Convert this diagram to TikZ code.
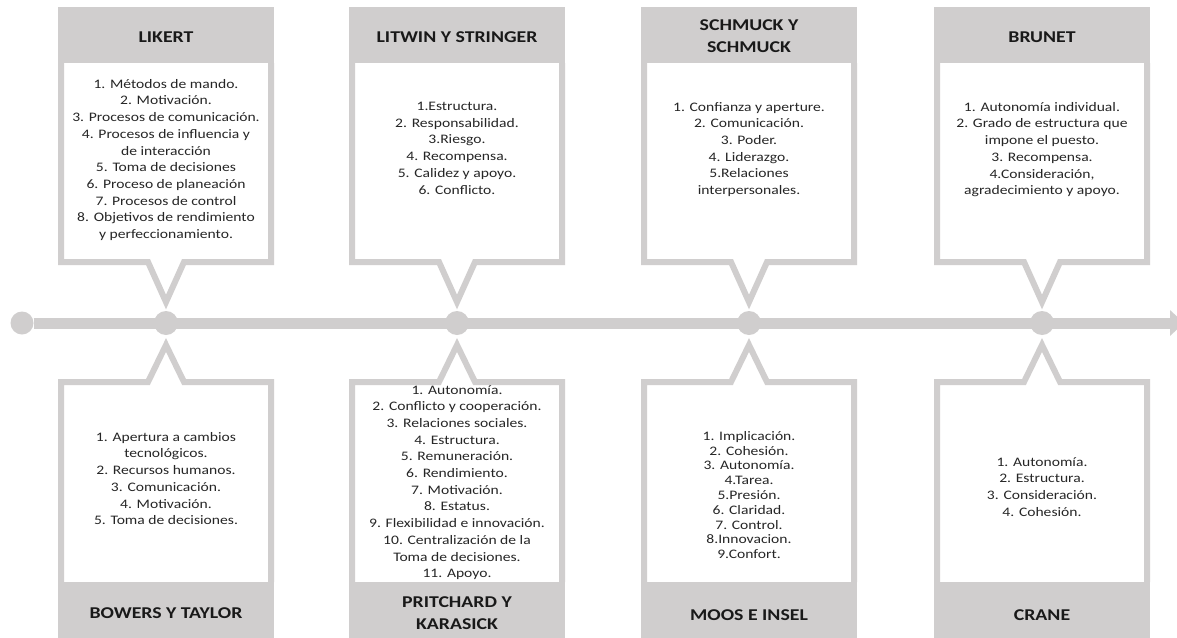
\documentclass[tikz,border=0pt]{standalone}
\usepackage{fontspec}
\setmainfont{Carlito}[FakeStretch=1.2]
\usetikzlibrary{arrows.meta}
\usetikzlibrary{positioning}
\definecolor{lgray}{RGB}{208,206,206}
\definecolor{ink}{RGB}{38,38,38}
\tikzset{dot/.style = {fill=lgray, circle, inner sep=0, minimum size=24}}
\tikzset{frame/.style = {draw=lgray, line width=6, line join=miter}}
\tikzset{timeline/.style = {lgray, line width=11, -{Triangle[length=14pt, width=25pt]}}}
\tikzset{head/.style = {font=\bfseries\fontsize{16.5}{22.5}\selectfont, align=center, text=black!90}}
\tikzset{items/.style = {font=\fontsize{13}{16.7}\selectfont, align=center, anchor=north, inner sep=0, text=ink}}

\begin{document}
\begin{tikzpicture}[x=1pt, y=-1pt]
  \clip (0, 0) rectangle (1177, 637);
  \fill[white] (0, 0) rectangle (1177, 637);

  % the time line
  \node[dot, minimum size=23] (origin) at (22, 323) {};
  \coordinate (tlend) at (1184, 323);
  \draw[timeline] (origin) -- (tlend);

  \foreach \x/\n in {166/1, 457/2, 749/3, 1042/4} {
    \node[dot] (d\n) at (\x, 323) {};
    \coordinate (up\n) at (\x, 302);
    \coordinate (dn\n) at (\x, 345);
    % upper box
    \fill[lgray] (\x-108, 7) rectangle (\x+108, 63);
    \draw[frame] (\x-105, 63) -- (\x-105, 262) -- (\x-18, 262) -- (up\n)
      -- (\x+18, 262) -- (\x+105, 262) -- (\x+105, 63);
    % lower box
    \fill[lgray] (\x-108, 582) rectangle (\x+108, 640);
    \draw[frame] (\x-105, 582) -- (\x-105, 382) -- (\x-18, 382) -- (dn\n)
      -- (\x+18, 382) -- (\x+105, 382) -- (\x+105, 582);
  }

  % upper boxes
  \node[head] (likert) at (166, 37) {LIKERT};
  \node[items] (likert items) at (166, 79) {1. Métodos de mando.\\ 2. Motivación.\\
    3. Procesos de comunicación.\\ 4. Procesos de influencia y\\ de interacción\\
    5. Toma de decisiones\\ 6. Proceso de planeación\\ 7. Procesos de control\\
    8. Objetivos de rendimiento\\ y perfeccionamiento.};

  \node[head] (litwin) at (457, 37) {LITWIN Y STRINGER};
  \node[items] (litwin items) at (457, 102) {1.Estructura.\\ 2. Responsabilidad.\\
    3.Riesgo.\\ 4. Recompensa.\\ 5. Calidez y apoyo.\\ 6. Conflicto.};

  \node[head] (schmuck) at (749, 36) {SCHMUCK Y\\ SCHMUCK};
  \node[items] (schmuck items) at (749, 102) {1. Confianza y aperture.\\
    2. Comunicación.\\ 3. Poder.\\ 4. Liderazgo.\\ 5.Relaciones\\ interpersonales.};

  \node[head] (brunet) at (1042, 37) {BRUNET};
  \node[items] (brunet items) at (1042, 102) {1. Autonomía individual.\\
    2. Grado de estructura que\\ impone el puesto.\\ 3. Recompensa.\\
    4.Consideración,\\ agradecimiento y apoyo.};

  % lower boxes
  \node[head] (bowers) at (166, 613) {BOWERS Y TAYLOR};
  \node[items] (bowers items) at (166, 432) {1. Apertura a cambios\\ tecnológicos.\\
    2. Recursos humanos.\\ 3. Comunicación.\\ 4. Motivación.\\ 5. Toma de decisiones.};

  \node[head] (pritchard) at (457, 613) {PRITCHARD Y\\ KARASICK};
  \node[items] (pritchard items) at (457, 385) {1. Autonomía.\\
    2. Conflicto y cooperación.\\ 3. Relaciones sociales.\\ 4. Estructura.\\
    5. Remuneración.\\ 6. Rendimiento.\\ 7. Motivación.\\ 8. Estatus.\\
    9. Flexibilidad e innovación.\\ 10. Centralización de la\\
    Toma de decisiones.\\ 11. Apoyo.};

  \node[head] (moos) at (749, 615) {MOOS E INSEL};
  \node[items, font=\fontsize{13}{14.8}\selectfont] (moos items) at (749, 431)
    {1. Implicación.\\ 2. Cohesión.\\ 3. Autonomía.\\ 4.Tarea.\\ 5.Presión.\\
    6. Claridad.\\ 7. Control.\\ 8.Innovacion.\\ 9.Confort.};

  \node[head] (crane) at (1042, 615) {CRANE};
  \node[items] (crane items) at (1042, 457) {1. Autonomía.\\ 2. Estructura.\\
    3. Consideración.\\ 4. Cohesión.};
\end{tikzpicture}
\end{document}
